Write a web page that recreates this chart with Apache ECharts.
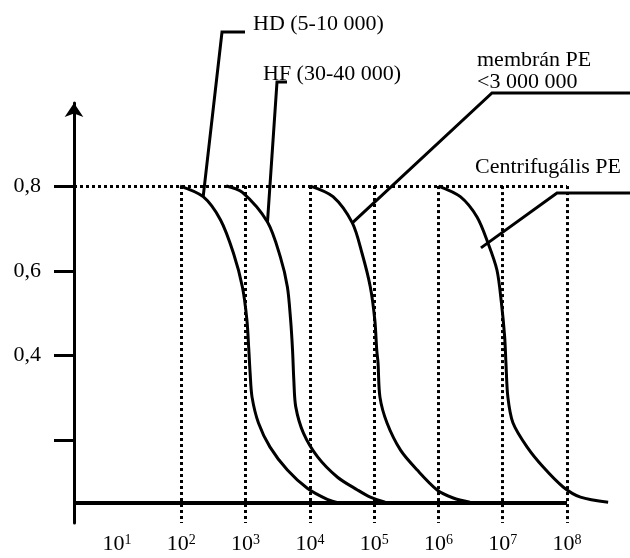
<!DOCTYPE html>
<html>
<head>
<meta charset="utf-8">
<script src="https://cdn.jsdelivr.net/npm/echarts@6/dist/echarts.min.js"></script>
<style>
  html, body { margin: 0; padding: 0; background: #fff; }
  #chart { width: 630px; height: 558px; }
</style>
</head>
<body>
<div id="chart"></div>
<script>
// x = log10(molar mass), y = retention
const gridExponents = [2, 3, 4, 5, 6, 7, 8];
const xLabelExponents = [1, 2, 3, 4, 5, 6, 7, 8];
const yTickValues = [0.2, 0.4, 0.6, 0.8];
const yLabelValues = [0.4, 0.6, 0.8];
const plateau = 0.8;
const baseline = 0.052;

const hdX = [1.98, 2.34, 2.61, 2.81, 2.95, 3.02, 3.05, 3.07, 3.10, 3.20, 3.38, 3.65, 3.96, 4.27, 4.47];
const hdY = [0.80, 0.775, 0.72, 0.642, 0.562, 0.484, 0.413, 0.359, 0.302, 0.241, 0.184, 0.130, 0.087, 0.061, 0.052];

const hfX = [2.70, 2.95, 3.34, 3.54, 3.65, 3.70, 3.73, 3.75, 3.78, 3.90, 4.12, 4.43, 4.74, 4.94, 5.17];
const hfY = [0.80, 0.785, 0.715, 0.633, 0.562, 0.484, 0.413, 0.342, 0.279, 0.217, 0.161, 0.113, 0.083, 0.066, 0.054];

const memX = [4.01, 4.36, 4.66, 4.81, 4.94, 5.01, 5.04, 5.06, 5.09, 5.20, 5.41, 5.67, 5.98, 6.23, 6.49];
const memY = [0.80, 0.775, 0.713, 0.642, 0.562, 0.484, 0.413, 0.383, 0.302, 0.241, 0.177, 0.130, 0.083, 0.064, 0.054];

const cenX = [6.00, 6.34, 6.60, 6.77, 6.91, 6.98, 7.03, 7.05, 7.08, 7.16, 7.38, 7.63, 7.94, 8.21, 8.64];
const cenY = [0.80, 0.775, 0.727, 0.666, 0.602, 0.524, 0.444, 0.383, 0.302, 0.241, 0.184, 0.137, 0.090, 0.066, 0.054];

const xMin = 0.33, xMax = 8.7, xAxisEnd = 8;
const yMin = 0.005, yMax = 0.996;
const font = '"Liberation Serif", "DejaVu Serif", serif';

const pairs = (xs, ys) => xs.map((x, i) => [x, ys[i]]);

const curveStyle = {
  type: 'line',
  smooth: 0.3,
  showSymbol: false,
  silent: true,
  lineStyle: { color: '#000', width: 3 }
};

const dotted = gridExponents.map(e => [{ coord: [e, plateau] }, { coord: [e, yMin] }]);
dotted.push([{ coord: [xMin, plateau] }, { coord: [xAxisEnd, plateau] }]);

const chart = echarts.init(document.getElementById('chart'));
chart.setOption({
  animation: false,
  grid: { left: 74, right: 18, top: 103, bottom: 35 },
  xAxis: {
    type: 'value',
    min: xMin,
    max: xMax,
    axisLine: { show: false },
    axisTick: { show: false },
    splitLine: { show: false },
    axisLabel: {
      customValues: xLabelExponents,
      margin: 10,
      formatter: v => '{b|10}{s|' + v + '}',
      rich: {
        b: { fontFamily: font, fontSize: 22, color: '#000' },
        s: { fontFamily: font, fontSize: 14, color: '#000', verticalAlign: 'top', lineHeight: 14 }
      }
    }
  },
  yAxis: {
    type: 'value',
    min: yMin,
    max: yMax,
    axisLine: {
      onZero: false,
      symbol: ['none', 'arrow'],
      symbolSize: [14, 14],
      lineStyle: { color: '#000', width: 3 }
    },
    axisTick: {
      customValues: yTickValues,
      length: 20,
      lineStyle: { color: '#000', width: 3 }
    },
    splitLine: { show: false },
    axisLabel: {
      customValues: yLabelValues,
      margin: 33,
      fontFamily: font,
      fontSize: 22,
      color: '#000',
      formatter: v => v.toFixed(1).replace('.', ',')
    }
  },
  series: [
    Object.assign({}, curveStyle, {
      name: 'HD',
      data: pairs(hdX, hdY),
      markLine: {
        silent: true,
        symbol: 'none',
        label: { show: false },
        lineStyle: { color: '#000', width: 3, type: [3, 3] },
        data: dotted
      }
    }),
    Object.assign({}, curveStyle, {
      name: 'HF',
      data: pairs(hfX, hfY),
      markLine: {
        silent: true,
        symbol: 'none',
        label: { show: false },
        lineStyle: { color: '#000', width: 4, type: 'solid' },
        data: [[{ coord: [xMin, baseline] }, { coord: [xAxisEnd, baseline] }]]
      }
    }),
    Object.assign({}, curveStyle, { name: 'membrán PE', data: pairs(memX, memY) }),
    Object.assign({}, curveStyle, { name: 'Centrifugális PE', data: pairs(cenX, cenY) })
  ]
});

// leader lines start on the curves
const px = p => chart.convertToPixel({ gridIndex: 0 }, p);
const aHd = px([hdX[1], hdY[1]]);
const aHf = px([hfX[2], hfY[2]]);
const aMem = px([memX[2], memY[2]]);
const aCen = px([cenX[3], cenY[3]]);

const leader = pts => ({
  type: 'polyline',
  silent: true,
  shape: { points: pts },
  style: { stroke: '#000', lineWidth: 3, fill: null }
});
const label = (x, y, t) => ({
  type: 'text',
  silent: true,
  x: x, y: y,
  style: { text: t, font: '22px ' + font, fill: '#000', textVerticalAlign: 'middle' }
});

chart.setOption({
  graphic: [
    leader([aHd, [222, 32], [245, 32]]),
    label(253, 24, 'HD (5-10 000)'),
    leader([aHf, [277, 82], [287, 82]]),
    label(263, 74, 'HF (30-40 000)'),
    leader([aMem, [492, 93], [630, 93]]),
    label(477, 60, 'membrán PE'),
    label(477, 82, '<3 000 000'),
    leader([[aCen[0] - 7, aCen[1] + 5], [557, 193], [630, 193]]),
    label(475, 167, 'Centrifugális PE')
  ]
});
</script>
</body>
</html>
